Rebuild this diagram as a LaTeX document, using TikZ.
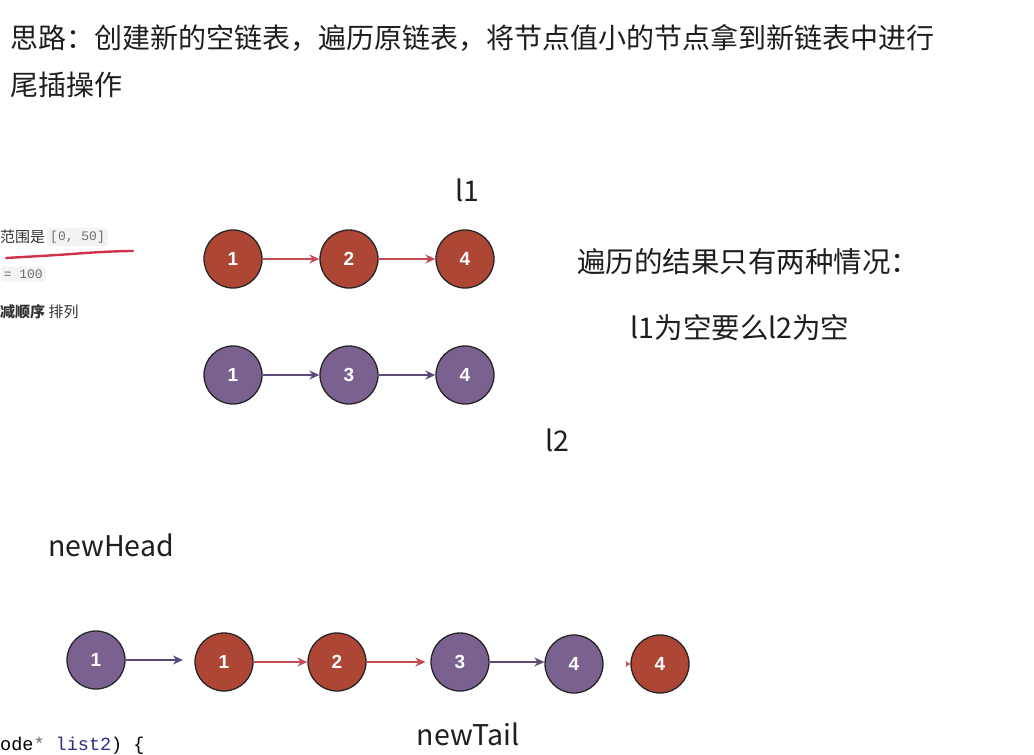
\documentclass[tikz,border=0pt]{standalone}
\usepackage{fontspec}
\setmainfont{Noto Sans CJK SC}
\newfontfamily\numfont{Liberation Sans}
\newfontfamily\codefont{Liberation Mono}
\usetikzlibrary{arrows.meta}
\definecolor{nodered}{HTML}{AE4636}
\definecolor{nodepurple}{HTML}{7A6190}
\definecolor{arrowred}{HTML}{C44A55}
\definecolor{arrowpurple}{HTML}{5C4A78}
\definecolor{textc}{HTML}{1E1E1E}
\definecolor{codebg}{HTML}{F2F3F5}
\definecolor{codegrey}{HTML}{707070}
\definecolor{inkred}{HTML}{D0314C}
\definecolor{codeblue}{HTML}{2B2F8A}
\tikzset{
  listnode/.style={circle, draw=black!85, line width=1.3pt, minimum size=58pt, inner sep=0pt,
    text=white, font=\numfont\bfseries\fontsize{19}{19}\selectfont},
  rednode/.style={listnode, fill=nodered},
  purplenode/.style={listnode, fill=nodepurple},
  redlink/.style={draw=arrowred, line width=1.5pt, -{Stealth[length=10pt,width=9pt]}},
  purplelink/.style={draw=arrowpurple, line width=1.5pt, -{Stealth[length=10pt,width=9pt]}},
  bigtext/.style={text=textc, inner sep=0pt, font=\fontsize{28}{28}\selectfont},
  midtext/.style={text=textc, inner sep=0pt, font=\fontsize{28.5}{28.5}\selectfont},
  smalltext/.style={text=black!80, inner sep=0pt, font=\fontsize{15}{15}\selectfont},
  codebox/.style={fill=codebg, rounded corners=3pt, text=codegrey, inner xsep=3pt, inner ysep=3pt,
    font=\codefont\fontsize{13}{13}\selectfont}
}
\begin{document}
\begin{tikzpicture}[x=1pt,y=-1pt]
\useasboundingbox[fill=white] (0,0) rectangle (1034,755);

% title
\node[bigtext, anchor=west] (title1) at (10,38) {思路：创建新的空链表，遍历原链表，将节点值小的节点拿到新链表中进行};
\node[bigtext, anchor=west] (title2) at (10,85) {尾插操作};

% left fragment
\node[smalltext, anchor=west] (range) at (0,237) {范围是};
\node[codebox, anchor=west] (rangecode) at (47,237) {[0, 50]};
\draw[inkred, line width=2.4pt, line cap=round] (6,258) .. controls (40,256) and (60,255) .. (85,253) .. controls (100,252) and (120,251) .. (133,251);
\node[codebox, anchor=east] (hundred) at (46,274) {= 100};
\node[smalltext, anchor=west] (order) at (0,312) {\textbf{减顺序} 排列};

% l1 list
\node[midtext] (l1label) at (467,190) {l1};
\node[rednode] (a1) at (233,259) {1};
\node[rednode] (a2) at (349,259) {2};
\node[rednode] (a3) at (465,259) {4};
\draw[redlink] (a1) -- (a2);
\draw[redlink] (a2) -- (a3);

% l2 list
\node[purplenode] (b1) at (233,375) {1};
\node[purplenode] (b2) at (349,375) {3};
\node[purplenode] (b3) at (465,375) {4};
\draw[purplelink] (b1) -- (b2);
\draw[purplelink] (b2) -- (b3);
\node[midtext] (l2label) at (557,440) {l2};

% right texts
\node[midtext] (result) at (748,262) {遍历的结果只有两种情况：};
\node[midtext] (cases) at (740,328) {l1为空要么l2为空};

% new list
\node[midtext] (newhead) at (111,545) {newHead};
\node[purplenode] (c0) at (96,660) {1};
\node[rednode] (c1) at (224,662) {1};
\node[rednode] (c2) at (337,662) {2};
\node[purplenode] (c3) at (460,662) {3};
\node[purplenode] (c4) at (574,664) {4};
\node[rednode] (c5) at (660,664) {4};
\coordinate (c0end) at (183,660);
\coordinate (c5start) at (626,664);
\draw[purplelink] (c0) -- (c0end);
\draw[redlink] (c1) -- (c2);
\draw[redlink, shorten >=5pt] (c2) -- (c3);
\draw[purplelink] (c3.east) -- (c3.east -| c4.west);
\draw[draw=arrowred, line width=1.5pt, -{Stealth[length=5pt,width=6pt]}] (c5start) -- (c5);
\node[midtext] (newtail) at (468,734) {newTail};

% code fragment
\node[inner sep=0pt, anchor=west, font=\codefont\fontsize{18.5}{18.5}\selectfont] (code) at (0,746) {ode\textcolor{codegrey}{*} \textcolor{codeblue}{list2}) \{};
\end{tikzpicture}
\end{document}
